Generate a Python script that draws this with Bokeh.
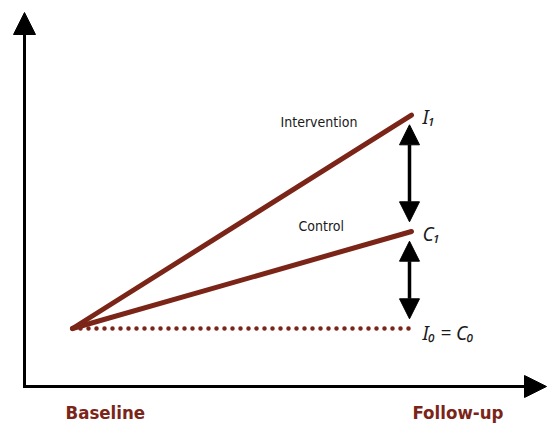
from bokeh.plotting import figure
from bokeh.models import Arrow, NormalHead, Range1d, Label
from bokeh.embed import file_html
from bokeh.resources import INLINE

# ---- data ----
periods = ["Baseline", "Follow-up"]
period_x = [0.0, 1.0]
intervention = [0.0, 2.2]
control = [0.0, 1.0]
no_change = [0.0, 0.0]
series_labels = ["Intervention", "Control"]
end_labels = ["I\u2081", "C\u2081", "I\u2080 = C\u2080"]

# ---- layout helpers (screen pixel -> data) ----
W, H = 547, 426
OX, UX = 72, 339   # screen x of x=0, px per x unit
OY, UY = 328, 97   # screen y of y=0, px per y unit
TXT_DY = 6         # text baseline correction (px)


def sx(px):
    return (px - OX) / UX


def sy(py):
    return (OY - py) / UY


BROWN = "#7b2518"
LABEL_FONT = "DejaVu Sans Condensed"
MATH_FONT = "Noto Sans"

p = figure(width=W, height=H, output_backend="svg", toolbar_location=None,
           x_range=Range1d(sx(0), sx(W)), y_range=Range1d(sy(H), sy(0)),
           x_axis_type=None, y_axis_type=None, min_border=0,
           background_fill_color="white", border_fill_color="white")
p.grid.visible = False
p.outline_line_color = None

# axes as arrows
ax_x, ax_y = sx(24), sy(386)
p.add_layout(Arrow(end=NormalHead(size=22, fill_color="black", line_color="black", line_width=1),
                   x_start=ax_x, y_start=sy(387.5), x_end=ax_x, y_end=sy(12),
                   line_width=3, line_color="black"))
p.add_layout(Arrow(end=NormalHead(size=22, fill_color="black", line_color="black", line_width=1),
                   x_start=sx(22.5), y_start=ax_y, x_end=sx(546), y_end=ax_y,
                   line_width=3, line_color="black"))

# series lines
p.line(period_x, no_change, line_width=4.5, line_color=BROWN, line_dash="0 8",
       line_cap="round")
p.line(period_x, intervention, line_width=5, line_color=BROWN, line_cap="round")
p.line(period_x, control, line_width=5, line_color=BROWN, line_cap="round")

# double arrows showing the differences
gap = 0.1
xa = sx(409)
for top, bottom in [(intervention[1], control[1]), (control[1], no_change[1])]:
    p.add_layout(Arrow(start=NormalHead(size=20, fill_color="black", line_color="black", line_width=1),
                       end=NormalHead(size=20, fill_color="black", line_color="black", line_width=1),
                       x_start=xa, y_start=top - gap, x_end=xa, y_end=bottom + gap,
                       line_width=3.5, line_color="black"))

# series labels
for txt, px, py in zip(series_labels, [280, 298], [127, 231]):
    p.add_layout(Label(x=sx(px), y=sy(py - TXT_DY), text=txt, text_font=LABEL_FONT,
                       text_font_size="14px", text_color="#1a1a1a",
                       text_baseline="alphabetic"))

# end labels
for txt, py in zip(end_labels, [122, 239, 338]):
    p.add_layout(Label(x=sx(422), y=sy(py - TXT_DY), text=txt, text_font=MATH_FONT,
                       text_font_style="italic", text_font_size="19px",
                       text_color="#1a1a1a", text_baseline="alphabetic"))

# period labels
for txt, px in zip(periods, [65, 412]):
    p.add_layout(Label(x=sx(px), y=sy(418 - TXT_DY), text=txt, text_font=LABEL_FONT,
                       text_font_style="bold", text_font_size="18.5px",
                       text_color=BROWN, text_baseline="alphabetic"))

open("out.html", "w").write(file_html(p, INLINE))
